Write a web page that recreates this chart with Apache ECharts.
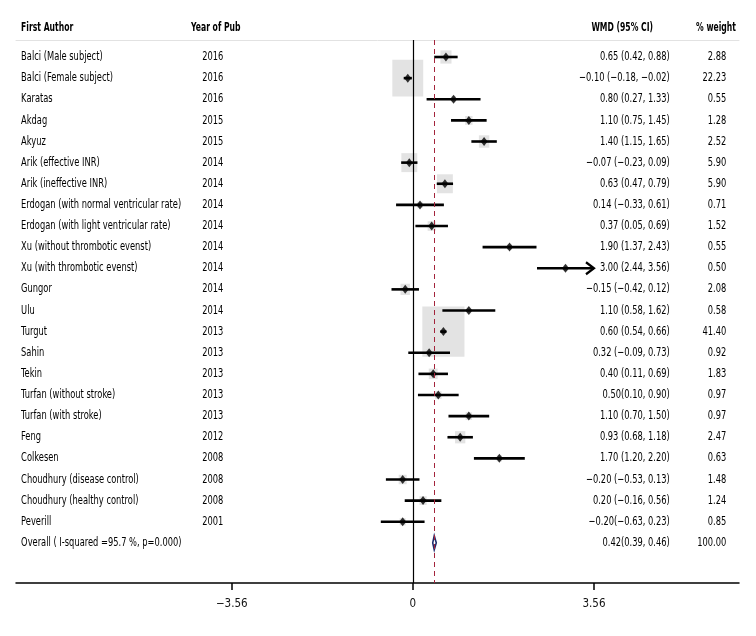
<!DOCTYPE html>
<html>
<head>
<meta charset="utf-8">
<script src="https://cdn.jsdelivr.net/npm/echarts@6/dist/echarts.min.js"></script>
<style>
html,body{margin:0;padding:0;background:#fff;}
#chart{width:756px;height:636px;}
</style>
</head>
<body>
<div id="chart"></div>
<script>
// ---- data ----
const authors = [
  'Balci (Male subject)', 'Balci (Female subject)', 'Karatas', 'Akdag', 'Akyuz',
  'Arik (effective INR)', 'Arik (ineffective INR)', 'Erdogan (with normal ventricular rate)',
  'Erdogan (with light ventricular rate)', 'Xu (without thrombotic evenst)', 'Xu (with thrombotic evenst)',
  'Gungor', 'Ulu', 'Turgut', 'Sahin', 'Tekin', 'Turfan (without stroke)', 'Turfan (with stroke)',
  'Feng', 'Colkesen', 'Choudhury (disease control)', 'Choudhury (healthy control)', 'Peverill'
];
const years = [2016, 2016, 2016, 2015, 2015, 2014, 2014, 2014, 2014, 2014, 2014, 2014, 2014,
  2013, 2013, 2013, 2013, 2013, 2012, 2008, 2008, 2008, 2001];
const estimates = [0.65, -0.10, 0.80, 1.10, 1.40, -0.07, 0.63, 0.14, 0.37, 1.90, 3.00, -0.15, 1.10,
  0.60, 0.32, 0.40, 0.50, 1.10, 0.93, 1.70, -0.20, 0.20, -0.20];
const lowers = [0.42, -0.18, 0.27, 0.75, 1.15, -0.23, 0.47, -0.33, 0.05, 1.37, 2.44, -0.42, 0.58,
  0.54, -0.09, 0.11, 0.10, 0.70, 0.68, 1.20, -0.53, -0.16, -0.63];
const uppers = [0.88, -0.02, 1.33, 1.45, 1.65, 0.09, 0.79, 0.61, 0.69, 2.43, 3.56, 0.12, 1.62,
  0.66, 0.73, 0.69, 0.90, 1.50, 1.18, 2.20, 0.13, 0.56, 0.23];
const ciTexts = [
  '0.65 (0.42, 0.88)', '\u22120.10 (\u22120.18, \u22120.02)', '0.80 (0.27, 1.33)', '1.10 (0.75, 1.45)',
  '1.40 (1.15, 1.65)', '\u22120.07 (\u22120.23, 0.09)', '0.63 (0.47, 0.79)', '0.14 (\u22120.33, 0.61)',
  '0.37 (0.05, 0.69)', '1.90 (1.37, 2.43)', '3.00 (2.44, 3.56)', '\u22120.15 (\u22120.42, 0.12)',
  '1.10 (0.58, 1.62)', '0.60 (0.54, 0.66)', '0.32 (\u22120.09, 0.73)', '0.40 (0.11, 0.69)',
  '0.50(0.10, 0.90)', '1.10 (0.70, 1.50)', '0.93 (0.68, 1.18)', '1.70 (1.20, 2.20)',
  '\u22120.20 (\u22120.53, 0.13)', '0.20 (\u22120.16, 0.56)', '\u22120.20(\u22120.63, 0.23)'
];
const weights = [2.88, 22.23, 0.55, 1.28, 2.52, 5.90, 5.90, 0.71, 1.52, 0.55, 0.50, 2.08, 0.58,
  41.40, 0.92, 1.83, 0.97, 0.97, 2.47, 0.63, 1.48, 1.24, 0.85];
const overallLabel = 'Overall ( I-squared =95.7 %, p=0.000)';
const overallEst = 0.42, overallLo = 0.39, overallHi = 0.46;
const overallText = '0.42(0.39, 0.46)';
const overallWeight = '100.00';
const headers = ['First Author', 'Year of Pub', 'WMD (95% CI)', '% weight'];
const tickValues = [-3.56, 0, 3.56];
const arrowLimit = 3.56;

// ---- layout (axis space) ----
const XMIN = -7.80, XMAX = 6.41;
const COL_AUTHOR = -7.70, COL_YEAR = -4.14, COL_YEAR_H = -4.36, COL_CI = 5.05, COL_CI_H = 4.72,
      COL_W = 6.16, COL_W_H = 6.35;
const HEADER_ROW = -1.37;
const nRows = authors.length;
const overallRow = nRows;

const FONT = "'DejaVu Sans Condensed','DejaVu Sans',sans-serif";
const FONT_SIZE = 12;
const SCALE_X = 0.77;
const SCALE_X_BOLD = 0.71;
const TXT = '#000';

function textColumn(points, align, bold) {
  return {
    type: 'custom', silent: true, clip: false, z: 5,
    data: points.map(p => [p[0], p[1]]),
    encode: { x: 0, y: 1 },
    renderItem: (params, api) => {
      const c = api.coord([api.value(0), api.value(1)]);
      return {
        type: 'text', x: c[0], y: c[1], scaleX: bold ? SCALE_X_BOLD : SCALE_X,
        style: {
          x: 0, y: 0, text: points[params.dataIndex][2],
          align: align, verticalAlign: 'middle',
          fontFamily: FONT, fontSize: FONT_SIZE, fontWeight: bold ? 'bold' : 'normal',
          fill: TXT
        }
      };
    }
  };
}

const rowsIdx = authors.map((_, i) => i);

const option = {
  backgroundColor: '#fff',
  animation: false,
  grid: { left: 16, right: 17, top: 40, bottom: 53 },
  xAxis: [{
    type: 'value', min: XMIN, max: XMAX, position: 'bottom',
    axisLine: { onZero: false, lineStyle: { color: '#000', width: 1.5 } },
    axisTick: { show: true, customValues: tickValues, length: 7, lineStyle: { color: '#000', width: 1.5 } },
    axisLabel: {
      customValues: tickValues, margin: 15, fontFamily: FONT, fontSize: 11.5, color: '#111',
      formatter: v => v === 0 ? '0' : (v < 0 ? '\u2212' + Math.abs(v).toFixed(2) : v.toFixed(2))
    },
    splitLine: { show: false }
  }, {
    type: 'value', min: XMIN, max: XMAX, position: 'top',
    axisLine: { onZero: false, lineStyle: { color: '#e2e2e2', width: 1 } },
    axisTick: { show: false }, axisLabel: { show: false }, splitLine: { show: false }
  }],
  yAxis: {
    type: 'value', inverse: true, min: -0.805, max: 24.9, show: false
  },
  series: [
    // weight boxes
    {
      type: 'scatter', symbol: 'rect', silent: true, clip: false, z: 1,
      data: rowsIdx.map(i => [estimates[i], i, weights[i]]),
      symbolSize: v => [6.55 * Math.sqrt(v[2]), 7.8 * Math.sqrt(v[2])],
      itemStyle: { color: '#dcdcdc' }
    },
    // reference lines
    {
      type: 'line', data: [], silent: true,
      markLine: {
        symbol: 'none', silent: true, label: { show: false },
        data: [
          { xAxis: 0, lineStyle: { color: '#000', width: 1.2, type: 'solid' } },
          { xAxis: overallEst, lineStyle: { color: '#a3243b', width: 1, type: [5, 4] } }
        ]
      },
      z: 2
    },
    // confidence intervals
    {
      type: 'custom', silent: true, clip: false, z: 3,
      data: rowsIdx.map(i => [lowers[i], uppers[i], i]),
      encode: { x: [0, 1], y: 2 },
      renderItem: (params, api) => {
        const a = api.coord([api.value(0), api.value(2)]);
        const b = api.coord([api.value(1), api.value(2)]);
        const children = [{
          type: 'line', shape: { x1: a[0], y1: a[1], x2: b[0], y2: b[1] },
          style: { stroke: '#000', lineWidth: 2.6 }
        }];
        if (api.value(1) >= arrowLimit) {
          children.push({
            type: 'polyline',
            shape: { points: [[b[0] - 8, b[1] - 6], [b[0], b[1]], [b[0] - 8, b[1] + 6]] },
            style: { stroke: '#000', lineWidth: 2.2, fill: null }
          });
        }
        return { type: 'group', children };
      }
    },
    // point estimates
    {
      type: 'scatter', symbol: 'diamond', symbolSize: [7, 9], silent: true, clip: false, z: 4,
      data: rowsIdx.map(i => [estimates[i], i]),
      itemStyle: { color: '#000' }
    },
    // overall diamond
    {
      type: 'custom', silent: true, clip: false, z: 4,
      data: [[overallLo, overallEst, overallHi, overallRow]],
      encode: { x: [0, 1, 2], y: 3 },
      renderItem: (params, api) => {
        const y = api.value(3);
        const l = api.coord([api.value(0), y]);
        const m = api.coord([api.value(1), y]);
        const r = api.coord([api.value(2), y]);
        return {
          type: 'polygon',
          shape: { points: [[l[0], l[1]], [m[0], m[1] - 7], [r[0], r[1]], [m[0], m[1] + 7]] },
          style: { fill: '#fff', stroke: '#1f2a6b', lineWidth: 1.6 }
        };
      }
    },
    // table text
    textColumn([[COL_AUTHOR, HEADER_ROW, headers[0]]], 'left', true),
    textColumn([[COL_YEAR_H, HEADER_ROW, headers[1]]], 'left', true),
    textColumn([[COL_CI_H, HEADER_ROW, headers[2]]], 'right', true),
    textColumn([[COL_W_H, HEADER_ROW, headers[3]]], 'right', true),
    textColumn(rowsIdx.map(i => [COL_AUTHOR, i, authors[i]]).concat([[COL_AUTHOR, overallRow, overallLabel]]), 'left', false),
    textColumn(rowsIdx.map(i => [COL_YEAR, i, String(years[i])]), 'left', false),
    textColumn(rowsIdx.map(i => [COL_CI, i, ciTexts[i]]).concat([[COL_CI, overallRow, overallText]]), 'right', false),
    textColumn(rowsIdx.map(i => [COL_W, i, weights[i].toFixed(2)]).concat([[COL_W, overallRow, overallWeight]]), 'right', false)
  ]
};

const chart = echarts.init(document.getElementById('chart'), null, { renderer: 'canvas' });
chart.setOption(option);
</script>
</body>
</html>
